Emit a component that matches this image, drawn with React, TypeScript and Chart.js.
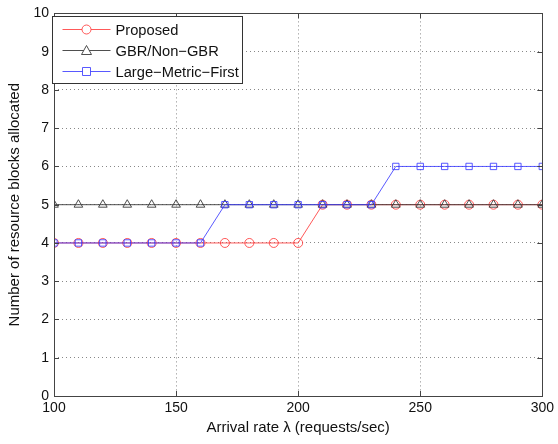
import React, { useEffect, useRef } from "react";
import { Chart, registerables } from "chart.js";
Chart.register(...registerables);

const xValues = [100, 110, 120, 130, 140, 150, 160, 170, 180, 190, 200, 210, 220, 230, 240, 250, 260, 270, 280, 290, 300];
const proposed = [4, 4, 4, 4, 4, 4, 4, 4, 4, 4, 4, 5, 5, 5, 5, 5, 5, 5, 5, 5, 5];
const gbrNonGbr = [5, 5, 5, 5, 5, 5, 5, 5, 5, 5, 5, 5, 5, 5, 5, 5, 5, 5, 5, 5, 5];
const largeMetricFirst = [4, 4, 4, 4, 4, 4, 4, 5, 5, 5, 5, 5, 5, 5, 6, 6, 6, 6, 6, 6, 6];
const seriesNames = ["Proposed", "GBR/Non\u2212GBR", "Large\u2212Metric\u2212First"];
const xTicks = [100, 150, 200, 250, 300];
const yTicks = [0, 1, 2, 3, 4, 5, 6, 7, 8, 9, 10];

const RED = "rgba(255,60,60,0.85)";
const GRAY = "rgba(60,60,60,0.9)";
const BLUE = "rgba(60,60,255,0.85)";
const FONT = "'Liberation Sans', Arial, sans-serif";

const frame = {
  id: "frame",
  afterDatasetsDraw(chart: any) {
    const { ctx, chartArea: a, scales } = chart;
    ctx.save();
    ctx.strokeStyle = "#444";
    ctx.lineWidth = 1;
    ctx.strokeRect(Math.round(a.left) + 0.5, Math.round(a.top) + 0.5, Math.round(a.right - a.left), Math.round(a.bottom - a.top));
    ctx.beginPath();
    const L = 5;
    xTicks.forEach((v) => {
      const x = Math.round(scales.x.getPixelForValue(v)) + 0.5;
      ctx.moveTo(x, a.bottom); ctx.lineTo(x, a.bottom - L);
      ctx.moveTo(x, a.top); ctx.lineTo(x, a.top + L);
    });
    yTicks.forEach((v) => {
      const y = Math.round(scales.y.getPixelForValue(v)) + 0.5;
      ctx.moveTo(a.left, y); ctx.lineTo(a.left + L, y);
      ctx.moveTo(a.right, y); ctx.lineTo(a.right - L, y);
    });
    ctx.stroke();

    // legend box
    const bx = Math.round(a.left) - 1.5, by = Math.round(a.top) + 3.5, bw = 190, bh = 67;
    ctx.fillStyle = "#fff";
    ctx.fillRect(bx, by, bw, bh);
    ctx.strokeStyle = "#333";
    ctx.strokeRect(bx, by, bw, bh);
    const colors = [RED, GRAY, BLUE];
    const styles = ["circle", "triangle", "rect"];
    ctx.font = `14.7px ${FONT}`;
    ctx.textBaseline = "middle";
    seriesNames.forEach((name, i) => {
      const y = by + 13 + i * 21;
      ctx.strokeStyle = colors[i];
      ctx.lineWidth = 1;
      ctx.beginPath();
      ctx.moveTo(bx + 10, y); ctx.lineTo(bx + 58, y);
      ctx.stroke();
      const cx = bx + 34;
      ctx.beginPath();
      if (styles[i] === "circle") ctx.arc(cx, y, 4.5, 0, Math.PI * 2);
      else if (styles[i] === "triangle") { ctx.moveTo(cx, y - 5); ctx.lineTo(cx + 5, y + 4); ctx.lineTo(cx - 5, y + 4); ctx.closePath(); }
      else ctx.rect(cx - 4, y - 4, 8, 8);
      ctx.fillStyle = "#fff";
      ctx.fill();
      ctx.stroke();
      ctx.fillStyle = "#111";
      ctx.fillText(name, bx + 63, y + 1);
    });
    ctx.restore();
  },
};

export default function App() {
  const ref = useRef<HTMLCanvasElement>(null);
  useEffect(() => {
    document.body.style.margin = "0";
    const mk = (ys: number[]) => xValues.map((x, i) => ({ x, y: ys[i] }));
    const chart = new Chart(ref.current!, {
      type: "line",
      data: {
        datasets: [
          { label: seriesNames[0], data: mk(proposed), borderColor: RED, pointStyle: "circle", pointRadius: 4.5, order: 2 },
          { label: seriesNames[1], data: mk(gbrNonGbr), borderColor: GRAY, pointStyle: "triangle", pointRadius: 5, order: 1 },
          { label: seriesNames[2], data: mk(largeMetricFirst), borderColor: BLUE, pointStyle: "rect", pointRadius: 4.5, order: 0 },
        ].map((d) => ({ ...d, borderWidth: 1, pointBorderWidth: 1, pointBackgroundColor: "transparent", pointBorderColor: d.borderColor, tension: 0, fill: false })) as any,
      },
      options: {
        animation: false,
        responsive: false,
        layout: { padding: { left: 0, right: 13, top: 13, bottom: 0 } },
        plugins: { legend: { display: false }, tooltip: { enabled: false } },
        scales: {
          x: {
            type: "linear", min: 100, max: 300,
            afterBuildTicks: (s: any) => { s.ticks = xTicks.map((v) => ({ value: v })); },
            afterFit: (s: any) => { s.height = 48; },
            border: { display: false, dash: [1, 3] },
            grid: { color: (c: any) => (c.tick && (c.tick.value === 100 || c.tick.value === 300) ? "transparent" : "#888"), drawTicks: false },
            ticks: { color: "#111", font: { family: FONT, size: 14 }, padding: 4, maxRotation: 0 },
            title: { display: true, text: "Arrival rate \u03bb (requests/sec)", color: "#111", font: { family: FONT, size: 15 }, padding: { top: 2, bottom: 7 } },
          },
          y: {
            type: "linear", min: 0, max: 10,
            afterBuildTicks: (s: any) => { s.ticks = yTicks.map((v) => ({ value: v })); },
            afterFit: (s: any) => { s.width = 54; },
            border: { display: false, dash: [1, 3] },
            grid: { color: (c: any) => (c.tick && (c.tick.value === 0 || c.tick.value === 10) ? "transparent" : "#888"), drawTicks: false },
            ticks: { color: "#111", font: { family: FONT, size: 14 }, padding: 5 },
            title: { display: true, text: "Number of resource blocks allocated", color: "#111", font: { family: FONT, size: 15 }, padding: { top: 6, bottom: 0 } },
          },
        },
      },
      plugins: [frame],
    });
    return () => chart.destroy();
  }, []);
  return (
    <div style={{ position: "fixed", left: 0, top: 0, width: 558, height: 444, background: "#fff" }}>
      <canvas ref={ref} width={558} height={444} style={{ width: 558, height: 444 }} />
    </div>
  );
}
